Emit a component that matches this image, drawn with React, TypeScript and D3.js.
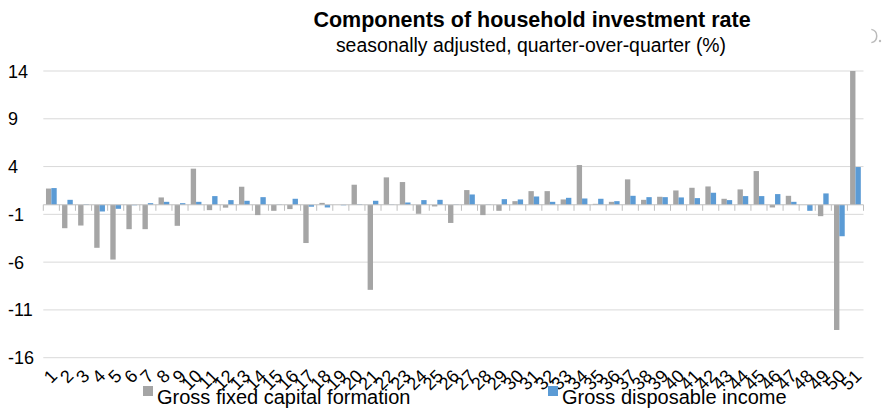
import React from "react";
import * as d3 from "d3";

const categories: string[] = Array.from({ length: 51 }, (_, i) => String(i + 1));

const grossFixedCapital: number[] = [
  1.7, -2.45, -2.17, -4.5, -5.73, -2.55, -2.55, 0.77, -2.2, 3.78,
  -0.56, -0.3, 1.89, -1.08, -0.63, -0.45, -4.0, 0.2, 0.0, 2.1,
  -8.9, 2.87, 2.38, -0.94, -0.17, -1.9, 1.54, -1.08, -0.63, 0.38,
  1.43, 1.43, 0.56, 4.16, 0.1, 0.31, 2.66, 0.52, 0.84, 1.5,
  1.78, 1.92, 0.63, 1.61, 3.53, -0.28, 0.94, 0.0, -1.19, -13.1,
  14.0,
];

const grossDisposableIncome: number[] = [
  1.75, 0.52, 0.05, -0.7, -0.42, -0.05, 0.17, 0.31, 0.17, 0.31,
  0.91, 0.49, 0.42, 0.8, 0.03, 0.63, -0.2, -0.28, -0.05, 0.05,
  0.42, 0.03, 0.24, 0.49, 0.52, 0.03, 1.08, 0.03, 0.59, 0.56,
  0.87, 0.31, 0.73, 0.66, 0.63, 0.38, 0.94, 0.8, 0.8, 0.77,
  0.7, 1.26, 0.49, 0.91, 0.91, 1.12, 0.31, -0.63, 1.19, -3.29,
  3.95,
];

const yTicks: number[] = [14, 9, 4, -1, -6, -11, -16];

const seriesNames: string[] = ["Gross fixed capital formation", "Gross disposable income"];
const seriesColors: string[] = ["#a5a5a5", "#5b9bd5"];

const title = "Components of household investment rate";
const subtitle = "seasonally adjusted, quarter-over-quarter (%)";

const W = 884;
const H = 417;
const FONT = "'Liberation Sans', Arial, sans-serif";

export default function App() {
  const left = 43.3;
  const right = 863.5;
  const top = 71;
  const bottom = 357.7;

  const x = d3.scaleBand<string>().domain(categories).range([left, right]).padding(0);
  const bw = x.bandwidth();
  const sub = d3
    .scaleBand<number>()
    .domain([0, 1])
    .range([bw / 6, (bw * 5) / 6])
    .padding(0);
  const y = d3.scaleLinear().domain([-16, 14]).range([bottom, top]);
  const y0 = y(0);

  const series = [grossFixedCapital, grossDisposableIncome];

  return (
    <svg
      width={W}
      height={H}
      style={{ position: "absolute", left: 0, top: 0, background: "#fff" }}
      fontFamily={FONT}
    >
      <rect x={0} y={0} width={W} height={H} fill="#fff" />
      <text x={532} y={27} textAnchor="middle" fontSize={21.5} fontWeight="bold" fill="#000">
        {title}
      </text>
      <text x={531} y={52} textAnchor="middle" fontSize={19.4} fill="#000">
        {subtitle}
      </text>
      {/* partial spinner glyph at top right */}
      <path
        d={d3.arc()({ innerRadius: 6, outerRadius: 7.5, startAngle: 0.2, endAngle: Math.PI - 0.2 }) || ""}
        transform="translate(870,36)"
        fill="#bbb"
      />
      <circle cx={880} cy={41} r={1.2} fill="#bbb" />

      {/* gridlines */}
      {yTicks.map((t) => (
        <line key={"g" + t} x1={left} x2={right} y1={y(t)} y2={y(t)} stroke="#d9d9d9" strokeWidth={1} />
      ))}
      {yTicks.map((t) => (
        <text key={"yl" + t} x={8} y={y(t) + 6.5} fontSize={18} fill="#000" textAnchor="start">
          {t}
        </text>
      ))}

      {/* bars */}
      {series.map((vals, si) =>
        vals.map((v, i) => {
          const bx = (x(categories[i]) as number) + (sub(si) as number);
          const yv = y(v);
          return (
            <rect
              key={si + "-" + i}
              x={bx}
              y={Math.min(yv, y0)}
              width={sub.bandwidth()}
              height={Math.abs(yv - y0)}
              fill={seriesColors[si]}
            />
          );
        })
      )}

      {/* zero axis */}
      <line x1={left} x2={right} y1={y0} y2={y0} stroke="#bfbfbf" strokeWidth={1} />
      {categories.concat([""]).map((c, i) => {
        const xx = left + i * bw;
        return <line key={"t" + i} x1={xx} x2={xx} y1={y0} y2={y0 + 6} stroke="#bfbfbf" strokeWidth={1} />;
      })}

      {/* category labels */}
      {categories.map((c) => {
        const cx = (x(c) as number) + bw / 2 - 2;
        const cy = 368;
        return (
          <text
            key={"xl" + c}
            transform={`translate(${cx},${cy}) rotate(-45)`}
            textAnchor="end"
            dominantBaseline="hanging"
            fontSize={18}
            fill="#000"
          >
            {c}
          </text>
        );
      })}

      {/* legend */}
      <rect x={143} y={386} width={10} height={10} fill={seriesColors[0]} />
      <text x={157} y={404} fontSize={20} fill="#000">
        {seriesNames[0]}
      </text>
      <rect x={548} y={386} width={10} height={10} fill={seriesColors[1]} />
      <text x={562} y={404} fontSize={20} fill="#000">
        {seriesNames[1]}
      </text>
    </svg>
  );
}
